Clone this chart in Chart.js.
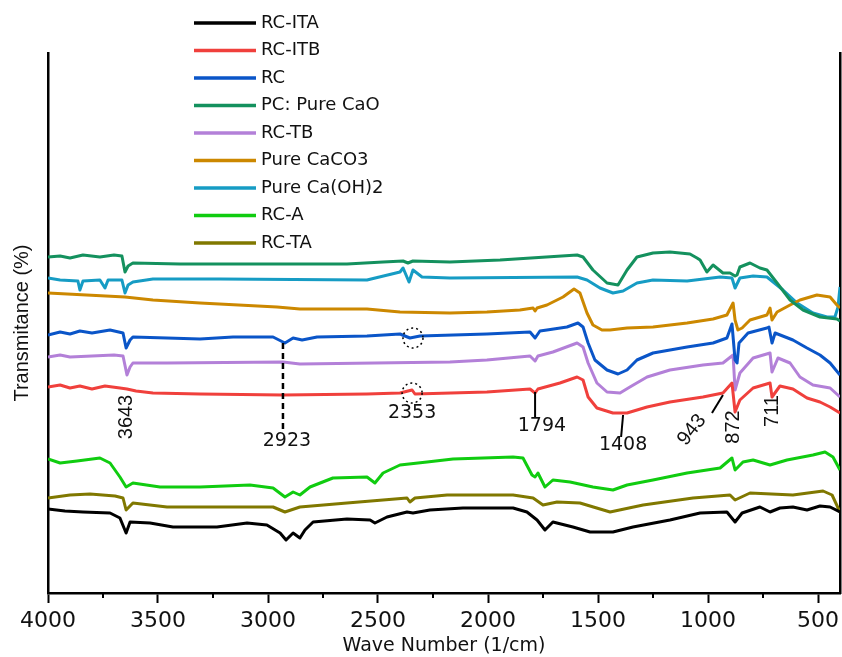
<!DOCTYPE html>
<html>
<head>
<meta charset="utf-8">
<script src="https://cdn.jsdelivr.net/npm/chart.js@4.4.1/dist/chart.umd.min.js"></script>
<style>
  html, body { margin: 0; padding: 0; background: #fff; }
  #wrap { width: 842px; height: 657px; }
</style>
</head>
<body>
<div id="wrap"><canvas id="ftir"></canvas></div>
<script>
// FTIR spectra, stacked (offset transmittance, arbitrary units)
// each point: [wave number (1/cm), transmittance]
const rcIta = [[4000,84],[3923,82],[3841,81],[3718,80],[3673,75],[3645,60],[3627,71],[3536,70],[3432,66],[3232,66],[3095,70],[3005,68],[2945,60],[2918,53],[2886,60],[2855,55],[2832,63],[2795,71],[2641,74],[2536,73],[2514,70],[2459,76],[2368,81],[2341,80],[2264,83],[2114,85],[1886,85],[1823,81],[1777,73],[1741,63],[1705,71],[1614,66],[1536,61],[1432,61],[1341,66],[1173,73],[1036,80],[914,81],[877,71],[845,80],[764,86],[718,81],[673,85],[614,86],[550,83],[491,87],[445,86],[400,81]];
const rcItb = [[4000,206],[3945,208],[3900,205],[3855,207],[3800,204],[3741,207],[3673,205],[3641,204],[3600,202],[3523,200],[3309,199],[2932,198],[2550,199],[2400,200],[2345,203],[2332,199],[2005,201],[1809,204],[1786,200],[1773,204],[1673,210],[1595,216],[1568,213],[1545,196],[1505,185],[1432,180],[1368,180],[1277,186],[1173,191],[1023,196],[932,200],[891,210],[877,181],[855,193],[795,205],[718,210],[709,196],[673,207],[614,204],[550,195],[491,191],[445,186],[400,180]];
const rc = [[4000,258],[3945,261],[3900,259],[3855,262],[3800,260],[3718,263],[3659,260],[3645,245],[3627,253],[3614,256],[3459,255],[3309,254],[3159,256],[2977,256],[2923,250],[2886,255],[2845,253],[2777,256],[2550,257],[2400,259],[2355,255],[2309,257],[2005,259],[1809,261],[1786,255],[1764,262],[1732,263],[1641,266],[1591,270],[1568,266],[1545,250],[1514,233],[1459,223],[1409,219],[1368,223],[1323,233],[1250,240],[1095,246],[977,250],[914,255],[891,269],[877,233],[868,230],[859,250],[818,260],[732,265],[723,266],[709,250],[695,260],[614,253],[550,245],[491,238],[445,230],[400,218]];
const pureCaO = [[4000,336],[3945,337],[3900,335],[3841,338],[3764,336],[3700,338],[3664,337],[3650,321],[3636,327],[3614,330],[3400,329],[2641,329],[2477,331],[2386,332],[2364,330],[2341,332],[2173,331],[1945,333],[1595,338],[1568,336],[1523,323],[1459,310],[1409,308],[1368,323],[1323,336],[1250,340],[1173,341],[1082,339],[1050,335],[1036,333],[1005,321],[977,328],[932,320],[900,320],[877,317],[868,318],[855,326],[809,330],[764,325],[732,323],[686,310],[627,293],[568,283],[491,276],[414,274],[400,272]];
const rcTb = [[4000,236],[3945,238],[3900,236],[3800,237],[3700,238],[3659,237],[3641,218],[3627,226],[3614,230],[3459,230],[2932,231],[2855,229],[2173,231],[2005,233],[1809,237],[1786,232],[1773,237],[1705,241],[1595,250],[1568,246],[1545,230],[1505,210],[1459,201],[1400,200],[1355,206],[1277,216],[1173,223],[1023,228],[932,230],[886,238],[877,203],[855,220],[795,235],[718,240],[709,221],[682,235],[627,230],[582,216],[523,208],[445,205],[400,196]];
const pureCaCO3 = [[4000,300],[3650,296],[3523,293],[3309,290],[2959,286],[2855,284],[2550,284],[2400,281],[2173,280],[2005,281],[1855,283],[1795,285],[1786,282],[1777,285],[1732,288],[1659,296],[1609,304],[1582,300],[1550,280],[1523,268],[1482,263],[1445,263],[1368,265],[1250,266],[1095,270],[977,274],[914,278],[886,290],[877,273],[864,263],[845,265],[809,273],[732,278],[718,285],[709,273],[686,281],[627,288],[582,293],[505,298],[445,296],[414,288],[400,285]];
const pureCaOH2 = [[4000,315],[3945,313],[3864,312],[3855,303],[3841,312],[3764,313],[3741,305],[3727,313],[3664,313],[3650,300],[3636,308],[3614,311],[3523,314],[3218,314],[2550,313],[2400,321],[2386,325],[2359,311],[2341,323],[2300,316],[2173,315],[1595,316],[1550,313],[1491,305],[1432,300],[1386,302],[1323,310],[1250,313],[1095,312],[945,316],[891,315],[877,305],[855,315],[795,317],[732,316],[659,303],[595,290],[523,280],[459,276],[423,276],[409,286],[400,306]];
const rcA = [[4000,134],[3945,130],[3868,132],[3764,135],[3718,130],[3673,116],[3645,106],[3614,110],[3491,106],[3309,106],[3082,108],[2977,105],[2923,96],[2886,101],[2855,98],[2809,106],[2705,115],[2550,116],[2514,110],[2477,120],[2400,128],[2277,131],[2159,134],[1886,136],[1841,135],[1800,118],[1786,116],[1773,120],[1741,106],[1705,113],[1627,111],[1523,106],[1432,103],[1368,108],[1250,113],[1095,120],[945,125],[891,135],[877,123],[841,131],[795,133],[718,128],[641,133],[523,138],[468,141],[432,136],[400,123]];
const rcTa = [[4000,95],[3900,98],[3809,99],[3695,97],[3659,95],[3645,83],[3614,90],[3459,86],[3159,86],[2977,86],[2923,81],[2855,86],[2641,90],[2368,95],[2355,91],[2332,95],[2186,98],[1886,98],[1795,95],[1750,88],[1686,91],[1582,90],[1445,81],[1295,88],[1068,95],[900,98],[877,93],[809,100],[614,98],[477,102],[436,98],[400,81]];

const seriesNames = ["RC-ITA", "RC-ITB", "RC", "PC: Pure CaO", "RC-TB", "Pure CaCO3", "Pure Ca(OH)2", "RC-A", "RC-TA"];
const seriesData = [rcIta, rcItb, rc, pureCaO, rcTb, pureCaCO3, pureCaOH2, rcA, rcTa];
const seriesColors = ["#000000", "#f0403c", "#0a55c8", "#14915e", "#b380d8", "#cc8800", "#169cc4", "#10cc10", "#807800"];

const xTicks = [4000, 3500, 3000, 2500, 2000, 1500, 1000, 500];
const xMinorTicks = [3750, 3250, 2750, 2250, 1750, 1250, 750];

// peak labels: [text, wave number, transmittance, rotation in degrees]
const peakLabels = [
  ["3643", 3641, 176, -90],
  ["2923", 2914, 152, 0],
  ["2353", 2345, 180, 0],
  ["1794", 1755, 167, 0],
  ["1408", 1386, 148, 0],
  ["943", 1073, 163, -52],
  ["872", 882, 166, -90],
  ["711", 709, 182, -90]
];
// leader lines: [wn1, t1, wn2, t2, dashed]
const leaderLines = [
  [2932, 250, 2932, 163, true],
  [1786, 201, 1786, 175, false],
  [1386, 178, 1395, 156, false],
  [932, 198, 982, 180, false]
];
const markedPeaks = [[2341, 255], [2345, 200]];

const peakNotes = {
  id: "peakNotes",
  afterDatasetsDraw(chart) {
    const { ctx, scales: { x, y }, chartArea } = chart;
    ctx.save();

    // minor ticks on the wave number axis
    ctx.strokeStyle = "#000";
    ctx.lineWidth = 2;
    for (const v of xMinorTicks) {
      const px = x.getPixelForValue(v);
      ctx.beginPath();
      ctx.moveTo(px, chartArea.bottom);
      ctx.lineTo(px, chartArea.bottom + 5);
      ctx.stroke();
    }

    for (const [w1, t1, w2, t2, dashed] of leaderLines) {
      ctx.setLineDash(dashed ? [6, 4] : []);
      ctx.lineWidth = dashed ? 2.5 : 2;
      ctx.beginPath();
      ctx.moveTo(x.getPixelForValue(w1), y.getPixelForValue(t1));
      ctx.lineTo(x.getPixelForValue(w2), y.getPixelForValue(t2));
      ctx.stroke();
    }

    ctx.setLineDash([2, 3]);
    ctx.lineWidth = 1.5;
    for (const [w, t] of markedPeaks) {
      ctx.beginPath();
      ctx.arc(x.getPixelForValue(w), y.getPixelForValue(t), 10, 0, Math.PI * 2);
      ctx.stroke();
    }
    ctx.setLineDash([]);

    ctx.fillStyle = "#111";
    ctx.textAlign = "center";
    ctx.textBaseline = "middle";
    for (const [text, w, t, rot] of peakLabels) {
      ctx.save();
      ctx.translate(x.getPixelForValue(w), y.getPixelForValue(t));
      ctx.rotate(rot * Math.PI / 180);
      ctx.font = rot === 0 ? "19px 'DejaVu Sans'" : "20px 'Liberation Sans'";
      ctx.fillText(text, 0, 0);
      ctx.restore();
    }
    ctx.restore();
  }
};

const legendBox = {
  id: "legendBox",
  afterDraw(chart) {
    const ctx = chart.ctx;
    ctx.save();
    ctx.font = "18px 'DejaVu Sans'";
    ctx.textBaseline = "middle";
    ctx.fillStyle = "#111";
    chart.data.datasets.forEach((ds, i) => {
      const yy = 23 + i * 27.5;
      ctx.strokeStyle = ds.borderColor;
      ctx.lineWidth = 3.5;
      ctx.beginPath();
      ctx.moveTo(194, yy);
      ctx.lineTo(256, yy);
      ctx.stroke();
      ctx.fillText(ds.label, 261, yy);
    });
    ctx.restore();
  }
};

new Chart(document.getElementById("ftir"), {
  type: "line",
  data: {
    datasets: seriesNames.map((name, i) => ({
      label: name,
      data: seriesData[i],
      borderColor: seriesColors[i],
      backgroundColor: seriesColors[i],
      borderWidth: 3,
      pointRadius: 0,
      tension: 0,
      borderJoinStyle: "round",
      yAxisID: "y"
    }))
  },
  options: {
    responsive: true,
    maintainAspectRatio: false,
    animation: false,
    layout: { padding: { top: 53, right: 2, left: 0, bottom: 0 } },
    plugins: {
      legend: { display: false },
      tooltip: { enabled: false }
    },
    scales: {
      x: {
        type: "linear",
        reverse: true,
        min: 400,
        max: 4000,
        afterBuildTicks: (s) => { s.ticks = xTicks.map(v => ({ value: v })); },
        ticks: {
          autoSkip: false,
          maxRotation: 0,
          padding: 6,
          color: "#111",
          font: { family: "DejaVu Sans", size: 22, lineHeight: 1.1 },
          callback: (v) => String(v)
        },
        grid: { display: true, drawOnChartArea: false, drawTicks: true, tickLength: 10, tickWidth: 2, tickColor: "#000" },
        border: { display: true, color: "#000", width: 2.5 },
        title: {
          display: true,
          text: "Wave Number (1/cm)",
          color: "#111",
          font: { family: "DejaVu Sans", size: 19, lineHeight: 1 },
          padding: { top: 2, bottom: 1 }
        },
        afterFit: (s) => { s.height = 64; s.paddingLeft = 0; s.paddingRight = 0; }
      },
      y: {
        min: 0,
        max: 540,
        ticks: { display: false },
        grid: { display: false },
        border: { display: true, color: "#000", width: 2.5 },
        title: {
          display: true,
          text: "Transmitance (%)",
          color: "#111",
          font: { family: "Liberation Sans", size: 20 },
          padding: { top: 10, bottom: 0 }
        },
        afterFit: (s) => { s.width = 48; }
      },
      y2: {
        position: "right",
        min: 0,
        max: 540,
        ticks: { display: false },
        grid: { display: false },
        border: { display: true, color: "#000", width: 2.5 },
        afterFit: (s) => { s.width = 0; }
      }
    }
  },
  plugins: [peakNotes, legendBox]
});
</script>
</body>
</html>
